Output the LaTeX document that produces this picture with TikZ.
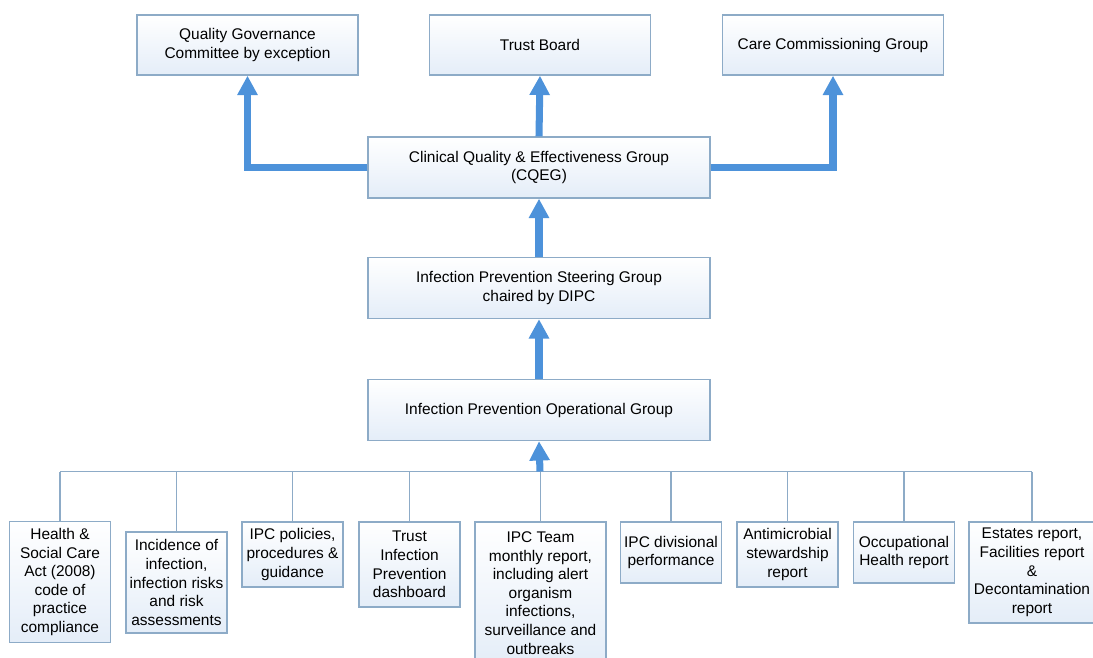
\documentclass[tikz,border=0pt]{standalone}
\usepackage{fontspec}
\setmainfont{Liberation Sans}
\usetikzlibrary{arrows.meta,positioning,calc}

\definecolor{arrowblue}{RGB}{77,146,218}
\definecolor{edgeblue}{RGB}{141,171,199}
\definecolor{fillblue}{RGB}{228,237,248}

\begin{document}
\begin{tikzpicture}[x=0.02cm, y=-0.02cm,
    font=\fontsize{8.8}{10.6}\selectfont,
    grp/.style={draw=edgeblue, line width=0.8pt, top color=white, bottom color=fillblue, align=center, inner sep=1pt},
    top/.style={grp, minimum width=4.42cm, minimum height=1.2cm},
    mid/.style={grp, minimum width=6.84cm, minimum height=1.22cm},
    rep/.style={grp, minimum width=2.02cm},
    flow/.style={-{Triangle[length=11pt,width=11pt]}, line width=4pt, arrowblue},
    link/.style={edgeblue, line width=0.8pt}
  ]
    \useasboundingbox (0,0) rectangle (1093,657);

    % reporting groups
    \node[top] (qgc) at (247.5,45) {Quality Governance\\Committee by exception};
    \node[top] (board) at (540,45) {Trust Board};
    \node[top] (ccg) at (833,45) {Care Commissioning Group};

    \node[mid] (cqeg) at (539,167.5) {Clinical Quality \& Effectiveness Group\\(CQEG)};
    \node[mid] (steer) at (539,288) {Infection Prevention Steering Group\\chaired by DIPC};
    \node[mid] (oper) at (539,410) {Infection Prevention Operational Group};

    % reports feeding the operational group
    \node[rep, minimum height=2.42cm] (hsca) at (60,582) {Health \&\\Social Care\\Act (2008)\\code of\\practice\\compliance};
    \node[rep, minimum height=2.02cm] (incid) at (176.5,582.5) {Incidence of\\infection,\\infection risks\\and risk\\assessments};
    \node[rep, minimum height=1.3cm] (policy) at (292.5,554.5) {IPC policies,\\procedures \&\\guidance};
    \node[rep, minimum height=1.7cm] (dash) at (409.5,564.5) {Trust\\Infection\\Prevention\\dashboard};
    \node[rep, minimum width=2.62cm, minimum height=2.84cm] (team) at (540.5,593) {IPC Team\\monthly report,\\including alert\\organism\\infections,\\surveillance and\\outbreaks};
    \node[rep, minimum height=1.22cm] (div) at (671,552.5) {IPC divisional\\performance};
    \node[rep, minimum height=1.3cm] (amr) at (787.5,554.5) {Antimicrobial\\stewardship\\report};
    \node[rep, minimum height=1.22cm] (occ) at (904,552.5) {Occupational\\Health report};
    \node[rep, minimum width=2.52cm, minimum height=2.02cm] (estate) at (1032,572.5) {Estates report,\\Facilities report\\\&\\Decontamination\\report};

    \coordinate (bus) at (540,471.5);

    \draw[link] (hsca.north |- bus) -- (estate.north |- bus);
    \foreach \r in {hsca,incid,policy,dash,team,div,amr,occ,estate}
      \draw[link] (\r.north) -- (\r.north |- bus);

    \draw[flow] (bus) -- (oper.south);
    \draw[flow] (oper.north) -- (steer.south);
    \draw[flow] (steer.north) -- (cqeg.south);
    \draw[flow] (cqeg.north) -- (board.south);
    \draw[flow] (cqeg.west) -| (qgc.south);
    \draw[flow] (cqeg.east) -| (ccg.south);
  \end{tikzpicture}
\end{document}
